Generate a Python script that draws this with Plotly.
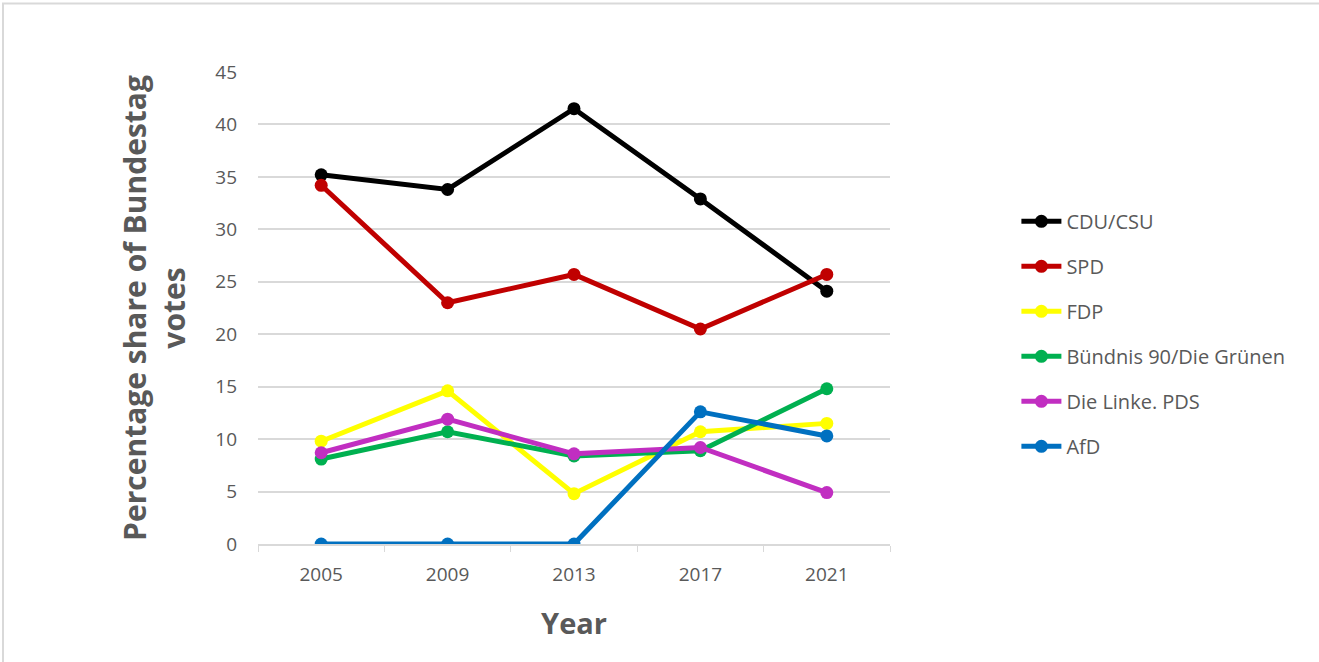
import plotly.graph_objects as go

years = ["2005", "2009", "2013", "2017", "2021"]
parties = ["CDU/CSU", "SPD", "FDP", "Bündnis 90/Die Grünen", "Die Linke. PDS", "AfD"]
cdu = [35.2, 33.8, 41.5, 32.9, 24.1]
spd = [34.2, 23.0, 25.7, 20.5, 25.7]
fdp = [9.8, 14.6, 4.8, 10.7, 11.5]
gruene = [8.1, 10.7, 8.4, 8.9, 14.8]
linke = [8.7, 11.9, 8.6, 9.2, 4.9]
afd = [0, 0, 0, 12.6, 10.3]
series = [cdu, spd, fdp, gruene, linke, afd]
colors = ["#000000", "#C00000", "#FFFF00", "#00B050", "#C12EC1", "#0070C0"]

FONT = "Open Sans"
fig = go.Figure()
for name, vals, col in zip(parties, series, colors):
    fig.add_trace(go.Scatter(
        x=years, y=vals, name=name, mode="lines+markers",
        line=dict(color=col, width=5),
        marker=dict(color=col, size=13),
        legendgroup=name,
    ))

fig.update_layout(
    width=1319, height=662,
    paper_bgcolor="white", plot_bgcolor="white",
    margin=dict(l=258, r=429, t=72, b=118),
    font=dict(family=FONT, color="#595959", size=19),
    showlegend=True,
    legend=dict(
        x=1.20, y=0.725, xanchor="left", yanchor="top",
        font=dict(family=FONT, size=20, color="#595959"),
        traceorder="grouped", tracegroupgap=16,
        itemwidth=40, bgcolor="rgba(0,0,0,0)",
    ),
    xaxis=dict(
        type="category", range=[-0.5, 4.5],
        showline=True, linecolor="#d9d9d9", linewidth=1.5,
        ticks="outside", tickson="boundaries", ticklen=6, tickcolor="#d9d9d9",
        showgrid=False, zeroline=False,
        ticklabelstandoff=12,
        tickfont=dict(family=FONT, size=19, color="#595959"),
        title=dict(text="Year", font=dict(family=FONT, size=29, color="#595959", weight="bold"), standoff=28),
    ),
    yaxis=dict(
        range=[0, 45], dtick=5, tick0=0,
        showgrid=True, gridcolor="#d9d9d9", gridwidth=1.5,
        showline=False, zeroline=False, ticks="",
        ticklabelstandoff=20,
        tickfont=dict(family=FONT, size=19, color="#595959"),
        title=dict(text="Percentage share of Bundestag<br>votes",
                   font=dict(family=FONT, size=30, color="#595959", weight="bold"), standoff=20),
    ),
    shapes=[dict(type="rect", xref="paper", yref="paper", x0=-0.4035, x1=1.8, y0=-0.4, y1=1.145,
                 line=dict(color="#d9d9d9", width=2), fillcolor="rgba(0,0,0,0)", layer="below")],
)

fig.write_html("out.html")
